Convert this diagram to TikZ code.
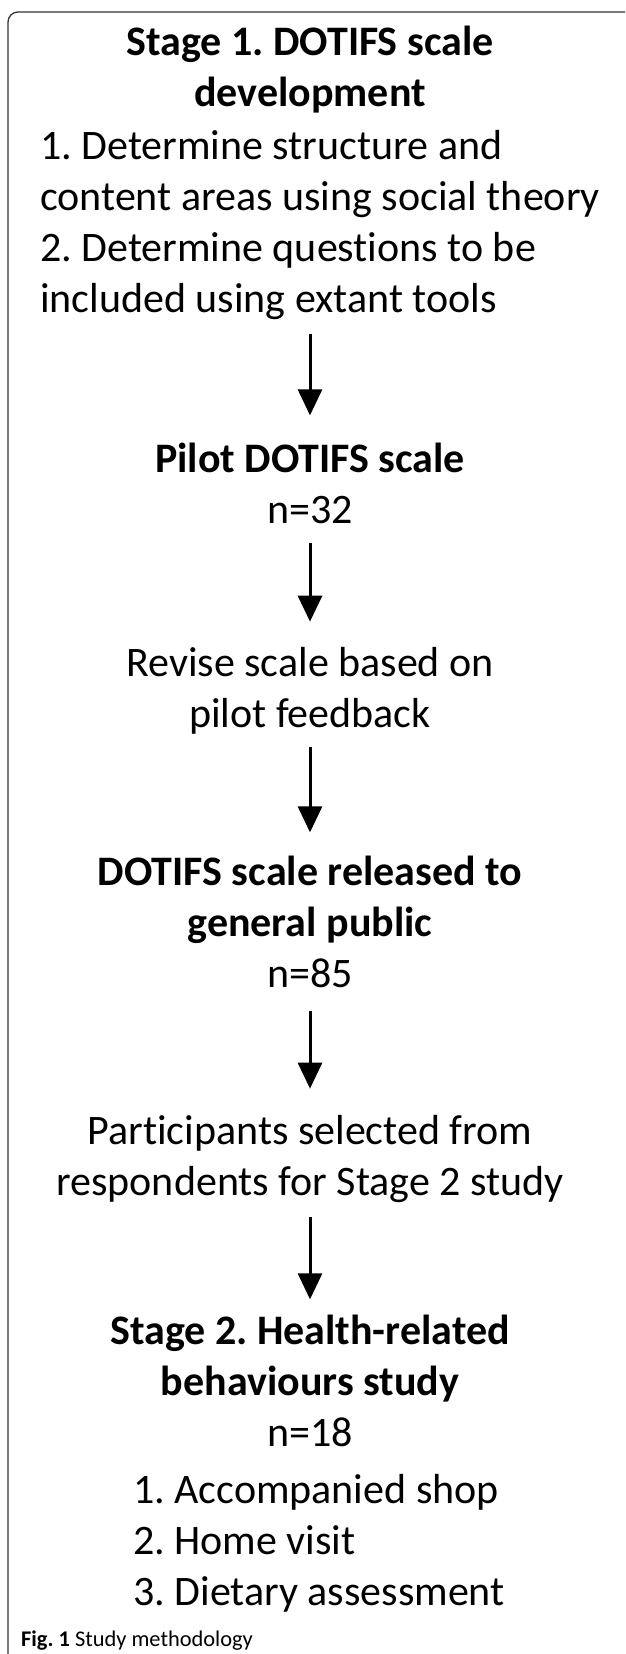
\documentclass[tikz,border=0pt]{standalone}
\usepackage{fontspec}
\setmainfont{Carlito}[Ligatures=CommonOff]
\usetikzlibrary{arrows.meta}
\frenchspacing

\tikzset{
  blk/.style={inner sep=0pt, align=center, font=\fontsize{42}{51}\selectfont},
  lst/.style={inner sep=0pt, align=left, font=\fontsize{42}{51}\selectfont},
  flow/.style={line width=3pt, -{Triangle[width=24pt,length=26pt]}},
}

\begin{document}
\begin{tikzpicture}[x=1pt,y=-1pt]
\useasboundingbox (0,0) rectangle (625,1654);
% frame
\draw[line width=1.3pt, rounded corners=10pt, black!80] (8,1654) -- (8,12) -- (625,12);

% stage 1 (base = last line)
\node[blk, anchor=base] (s1title) at (310,106) {\textbf{Stage 1. DOTIFS scale}\\\textbf{development}};
\node[lst, anchor=base west] (s1list) at (40,312) {1. Determine structure and\\content areas using social theory\\2. Determine questions to be\\included using extant tools};

\node[blk, anchor=base] (pilot) at (310,523) {\textbf{Pilot DOTIFS scale}\\n=32};
\node[blk, anchor=base] (revise) at (310,727) {Revise scale based on\\pilot feedback};
\node[blk, anchor=base] (public) at (310,987) {\textbf{DOTIFS scale released to}\\\textbf{general public}\\n=85};
\node[blk, anchor=base] (select) at (310,1195) {Participants selected from\\respondents for Stage 2 study};

% stage 2
\node[blk, anchor=base] (s2title) at (310,1446) {\textbf{Stage 2. Health-related}\\\textbf{behaviours study}\\n=18};
\node[lst, anchor=base west] (s2list) at (133,1605) {1. Accompanied shop\\2. Home visit\\3. Dietary assessment};

\draw[flow, shorten <=14.5pt, shorten >=27pt] (s1list.south -| pilot.north) -- (pilot.north);
\draw[flow, shorten <=20pt, shorten >=25pt] (pilot.south) -- (revise.north);
\draw[flow, shorten <=13.5pt, shorten >=23pt] (revise.south) -- (public.north);
\draw[flow, shorten <=23pt, shorten >=26pt] (public.south) -- (select.north);
\draw[flow, shorten <=14.5pt, shorten >=15pt] (select.south) -- (s2title.north);

\node[anchor=base west, inner sep=0pt, font=\fontsize{22.4}{26}\selectfont] (cap) at (21,1646) {\textbf{Fig. 1} Study methodology};
\end{tikzpicture}
\end{document}
